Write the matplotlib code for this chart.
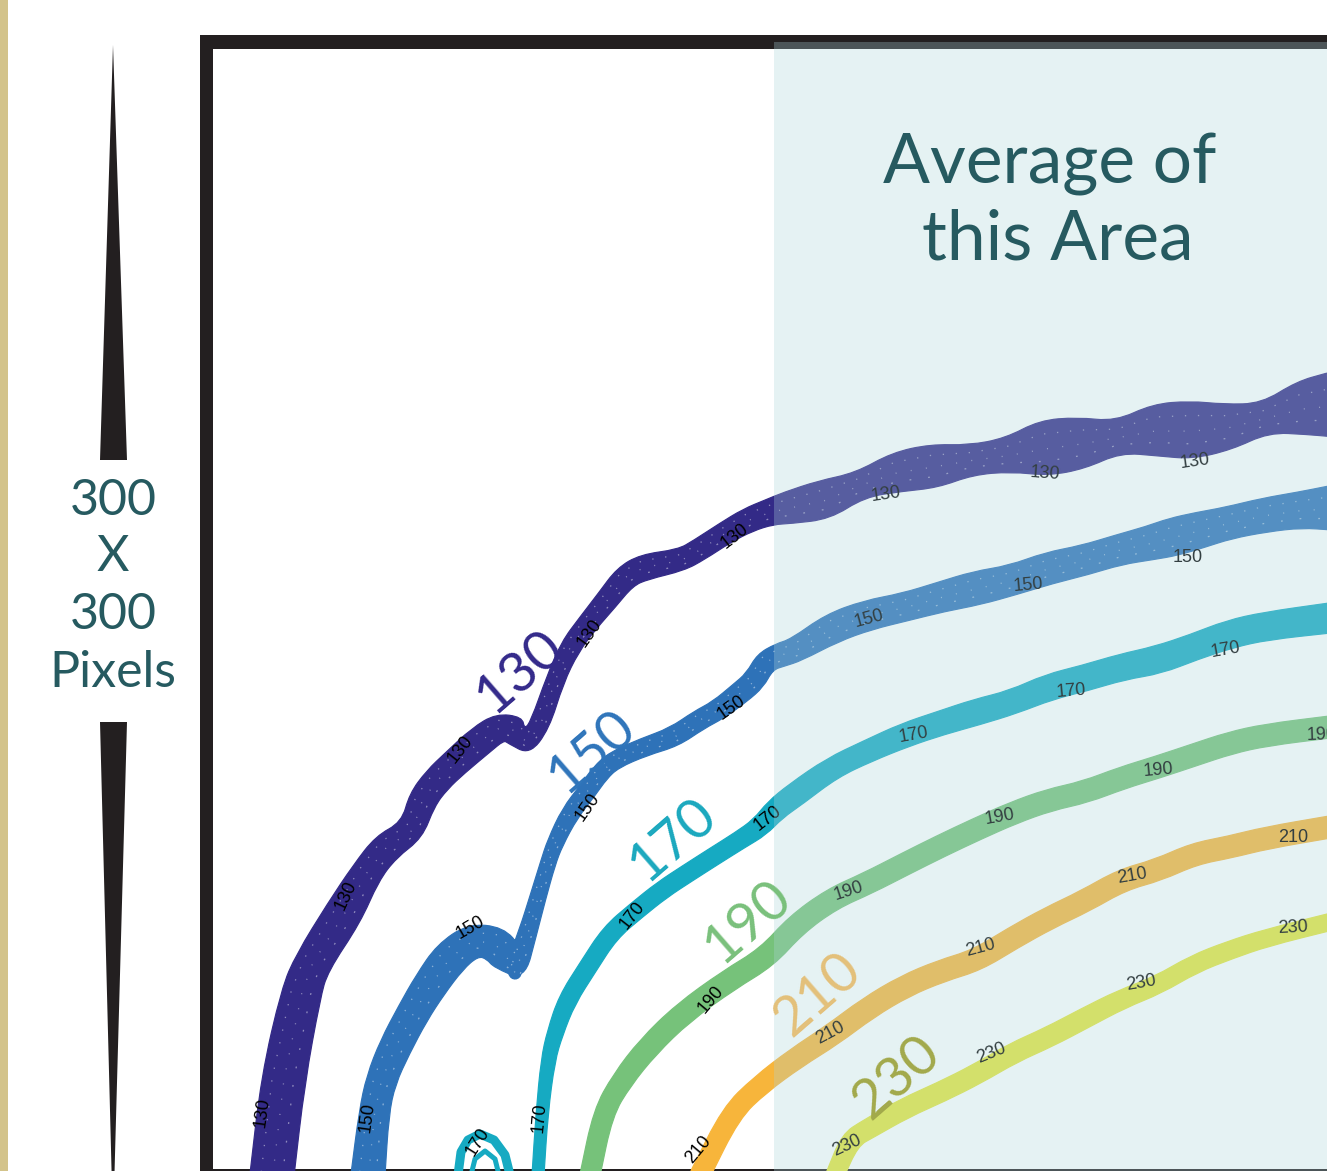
import numpy as np
import matplotlib
matplotlib.use("Agg")
import matplotlib.pyplot as plt
from matplotlib.collections import LineCollection
from matplotlib.patches import Polygon, Rectangle, PathPatch
from matplotlib.path import Path

W, H = 1327, 1171
DPI = 100
PX = 72.0 / DPI  # points per pixel

# ---------------------------------------------------------------- data
levels = [130, 150, 170, 190, 210, 230]

# contour centre lines (pixel coordinates of the panel) and band widths
x130 = [272, 283, 301, 312, 344, 366, 386, 412, 422, 437, 455, 481, 500, 515, 527, 540, 555, 570,
        588, 607, 625, 644, 681, 699, 725, 748, 770, 787, 824, 860, 897, 934, 971, 1008, 1044,
        1081, 1118, 1155, 1191, 1228, 1265, 1302, 1330]
y130 = [1175, 1080, 993, 963, 913, 873, 847, 830, 800, 780, 763, 740, 727, 730, 742, 725, 680, 647,
        623, 600, 577, 567, 560, 550, 533, 520, 512, 508, 500, 485, 472, 466, 460, 455, 448,
        443, 437, 430, 430, 427, 418, 408, 405]
w130 = [44, 44, 40, 36, 38, 30, 30, 26, 28, 28, 28, 30, 28, 30, 26, 20, 18, 20,
        20, 22, 24, 26, 22, 22, 22, 24, 26, 32, 40, 26, 40, 44, 30, 34, 56,
        52, 32, 52, 58, 46, 30, 54, 64]

x150 = [368, 374, 381, 395, 413, 430, 450, 473, 495, 508, 515, 528, 538, 548, 555, 570, 588, 600,
        614, 644, 674, 699, 718, 740, 755, 765, 780, 796, 832, 868, 905, 941, 977, 1013, 1049,
        1085, 1118, 1150, 1173, 1200, 1228, 1265, 1300, 1330]
y150 = [1175, 1113, 1080, 1047, 1013, 985, 957, 940, 943, 958, 973, 932, 897, 863, 843, 813, 790, 773,
        760, 747, 737, 720, 710, 693, 680, 662, 655, 650, 628, 615, 607, 597, 588, 580, 568,
        560, 550, 543, 537, 530, 523, 515, 510, 508]
w150 = [34, 30, 30, 32, 32, 34, 36, 34, 36, 34, 24, 18, 16, 15, 16, 18, 18, 18,
        18, 18, 20, 20, 20, 22, 22, 22, 24, 24, 30, 30, 28, 30, 34, 30, 32,
        30, 30, 34, 38, 36, 32, 34, 36, 44]

x170 = [538, 542, 548, 555, 567, 588, 610, 637, 662, 688, 713, 740, 760, 775, 796, 832, 868, 905,
        941, 977, 1013, 1049, 1085, 1122, 1158, 1194, 1230, 1266, 1330]
y170 = [1175, 1113, 1060, 1033, 1000, 967, 933, 910, 890, 873, 857, 840, 827, 810, 794, 768, 751, 735,
        723, 712, 702, 687, 678, 667, 660, 647, 634, 626, 618]
w170 = [12, 12, 14, 16, 18, 18, 18, 18, 18, 18, 18, 18, 20, 22, 24, 22, 22, 24,
        24, 26, 24, 26, 26, 26, 28, 26, 28, 28, 30]

x190 = [590, 603, 622, 648, 683, 729, 767, 796, 832, 868, 905, 941, 977, 1013, 1049, 1085, 1122,
        1158, 1194, 1230, 1266, 1330]
y190 = [1175, 1113, 1080, 1047, 1013, 980, 957, 925, 899, 883, 864, 846, 829, 813, 800, 792, 778,
        767, 755, 743, 735, 727]
w190 = [20, 20, 21, 22, 22, 22, 22, 22, 22, 22, 22, 22, 22, 22, 22, 22, 22, 22, 22, 22, 22, 22]

x210 = [700, 731, 760, 796, 832, 868, 905, 941, 977, 1013, 1049, 1085, 1122, 1158, 1194, 1230, 1266, 1330]
y210 = [1175, 1113, 1085, 1058, 1035, 1008, 986, 971, 960, 938, 918, 901, 880, 870, 854, 847, 838, 827]
w210 = [20, 20, 20, 21, 22, 22, 22, 22, 22, 22, 22, 22, 22, 22, 22, 22, 22, 22]

x230 = [835, 850, 868, 905, 941, 977, 1013, 1049, 1085, 1122, 1158, 1194, 1230, 1266, 1330]
y230 = [1175, 1140, 1129, 1108, 1092, 1074, 1053, 1037, 1018, 999, 985, 964, 950, 938, 922]
w230 = [18, 20, 20, 20, 20, 20, 20, 20, 20, 19, 18, 18, 18, 17, 17]

# small closed 170 contour near the lower edge (outer and inner ring)
x170_outer = [458, 461, 468, 480, 494, 505, 510]
y170_outer = [1175, 1152, 1140, 1134, 1140, 1155, 1175]
x170_inner = [471, 475, 485, 495, 499]
y170_inner = [1175, 1159, 1151, 1159, 1175]

paths = [(x130, y130, w130), (x150, y150, w150), (x170, y170, w170),
         (x190, y190, w190), (x210, y210, w210), (x230, y230, w230)]
line_colors = ["#332A87", "#2E72B8", "#16AAC2", "#76C27A", "#F7B53B", "#E4E63C"]
label_colors = ["#33298A", "#2E74BA", "#1AA8BE", "#79C07B", "#E3C07A", "#A2A94B"]

# inline contour labels: (level, x, y, rotation)
inline_labels = [
    (130, 262, 1112, 82), (130, 346, 895, 65), (130, 460, 749, 52), (130, 590, 633, 55),
    (130, 735, 536, 38), (130, 886, 494, 8), (130, 1045, 474, -4), (130, 1195, 461, 8),
    (150, 367, 1117, 82), (150, 470, 928, 30), (150, 588, 807, 55), (150, 731, 708, 35),
    (150, 869, 619, 15), (150, 1028, 585, 5), (150, 1188, 557, 0),
    (170, 478, 1142, 58), (170, 539, 1118, 85), (170, 632, 915, 52), (170, 768, 818, 38),
    (170, 914, 735, 10), (170, 1071, 691, 5), (170, 1226, 650, 10),
    (190, 711, 1000, 50), (190, 849, 891, 18), (190, 1000, 817, 10), (190, 1158, 770, 5),
    (190, 1322, 735, 2),
    (210, 698, 1150, 50), (210, 830, 1033, 28), (210, 981, 948, 15), (210, 1132, 876, 10),
    (210, 1293, 837, 0),
    (230, 847, 1146, 25), (230, 991, 1053, 22), (230, 1141, 983, 10), (230, 1293, 928, 3),
]

# large level captions: (x, y)
caption_pos = [(520, 672), (592, 752), (673, 840), (748, 922), (818, 995), (897, 1078)]

TEAL = "#265A60"
INK = "#231F20"


def band_edges(xs, ys, ws):
    """Offset a centre line by half its width on both sides."""
    p = np.column_stack([xs, ys]).astype(float)
    w = np.asarray(ws, float)
    t = np.empty_like(p)
    t[1:-1] = p[2:] - p[:-2]
    t[0] = p[1] - p[0]
    t[-1] = p[-1] - p[-2]
    t /= np.hypot(t[:, 0], t[:, 1])[:, None]
    n = np.column_stack([-t[:, 1], t[:, 0]])
    return p + n * (w[:, None] / 2), p - n * (w[:, None] / 2), n


def smooth_edge(pts, first):
    """Quadratic-Bezier rounding of a polyline through its segment midpoints."""
    mids = (pts[:-1] + pts[1:]) / 2
    verts = [pts[0], mids[0]]
    codes = [Path.MOVETO if first else Path.LINETO, Path.LINETO]
    for i in range(1, len(pts) - 1):
        verts += [pts[i], mids[i]]
        codes += [Path.CURVE3, Path.CURVE3]
    verts.append(pts[-1])
    codes.append(Path.LINETO)
    return verts, codes


# ---------------------------------------------------------------- figure
fig = plt.figure(figsize=(W / DPI, H / DPI), dpi=DPI)
ax = fig.add_axes([0, 0, 1, 1])
ax.set_xlim(0, W)
ax.set_ylim(H, 0)
ax.axis("off")

# gold edge strip
ax.add_patch(Rectangle((0, 0), 8, H, facecolor="#D3C38A", edgecolor="none", zorder=1))

# panel frame
ax.add_patch(Rectangle((200, 35), 1200, 14, facecolor=INK, edgecolor="none", zorder=2))
ax.add_patch(Rectangle((200, 35), 13, 1200, facecolor=INK, edgecolor="none", zorder=2))
ax.add_patch(Rectangle((200, 1169), 1200, 10, facecolor=INK, edgecolor="none", zorder=2))

# contour bands: filled envelope of the overlapping contour traces
for k, ((xs, ys, ws), col) in enumerate(zip(paths, line_colors)):
    left, right, nrm = band_edges(xs, ys, ws)
    v1, c1 = smooth_edge(left, True)
    v2, c2 = smooth_edge(right[::-1], False)
    verts = v1 + v2 + [v1[0]]
    codes = c1 + c2 + [Path.CLOSEPOLY]
    ax.add_patch(PathPatch(Path(verts, codes), facecolor=col, edgecolor=col,
                           linewidth=1.2 * PX, joinstyle="round", zorder=3))
    segs = [[(xs[i], ys[i]), (xs[i + 1], ys[i + 1])] for i in range(len(xs) - 1)]
    lws = [0.55 * min(ws[i], ws[i + 1]) * PX for i in range(len(xs) - 1)]
    ax.add_collection(LineCollection(segs, colors=col, linewidths=lws, capstyle="round",
                                     joinstyle="round", zorder=3))
    # faint light streaks inside the wide bands, where single traces separate
    if k < 2:
        p = np.column_stack([xs, ys]).astype(float)
        w = np.asarray(ws, float)
        for frac, dash in [(-0.25, (0, (1.0, 9.0))), (0.02, (3, (0.8, 11.0))),
                           (0.24, (6, (1.4, 13.0)))]:
            q = p + nrm * (w[:, None] * frac)
            ax.plot(q[:, 0], q[:, 1], color="white", alpha=0.45, lw=1.3 * PX,
                    linestyle=dash, zorder=3.1)

# small closed contour rings
ax.plot(x170_outer, y170_outer, color=line_colors[2], lw=9 * PX,
        solid_joinstyle="round", zorder=3)
ax.plot(x170_inner, y170_inner, color=line_colors[2], lw=5 * PX,
        solid_joinstyle="round", zorder=3)

# inline labels
for lev, x, y, rot in inline_labels:
    ax.text(x, y, str(lev), fontsize=13, family="Liberation Sans", color="black",
            rotation=rot, rotation_mode="anchor", ha="center", va="center", zorder=4,
            clip_on=True)

# averaging window
ax.add_patch(Rectangle((774, 42), 700, 1200, facecolor=(172 / 255, 212 / 255, 218 / 255),
                       alpha=0.3, edgecolor="none", zorder=5))

# large captions
for lev, (x, y), col in zip(levels, caption_pos, label_colors):
    ax.text(x, y, str(lev), fontsize=40, family="Lato", color=col, rotation=41,
            rotation_mode="anchor", ha="center", va="center", zorder=6)

ax.text(1050, 183, "Average of", fontsize=50, family="Lato", color=TEAL,
        ha="center", va="baseline", zorder=6)
ax.text(1058, 260, "this Area", fontsize=50, family="Lato", color=TEAL,
        ha="center", va="baseline", zorder=6)

# size indicator on the left
ax.add_patch(Polygon([(100, 460), (113, 45), (127, 460)], closed=True,
                     facecolor=INK, edgecolor="none", zorder=2))
ax.add_patch(Polygon([(100, 722), (127, 722), (113, 1227)], closed=True,
                     facecolor=INK, edgecolor="none", zorder=2))
for txt, yb in zip(["300", "X", "300", "Pixels"], [515, 571, 629, 687]):
    ax.text(113, yb, txt, fontsize=36, family="Lato", color=TEAL,
            ha="center", va="baseline", zorder=6)

fig.savefig("out.png", dpi=DPI)
